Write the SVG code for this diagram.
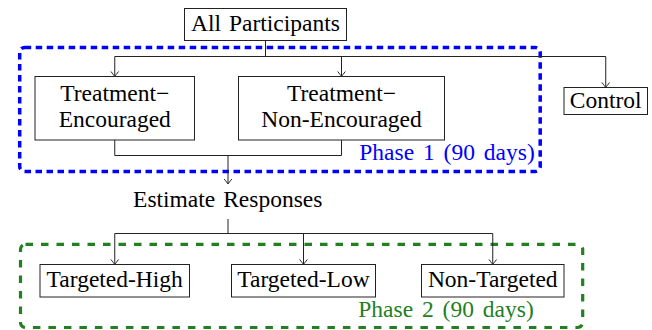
<svg xmlns="http://www.w3.org/2000/svg" width="652" height="330" viewBox="0 0 652 330">
<style>
.t{font-family:'Liberation Serif','DejaVu Serif',serif;font-size:23.5px;fill:#000;text-anchor:middle;word-spacing:2px}
.ph{word-spacing:3px}
.box{fill:#fff;stroke:#222;stroke-width:1}
.ln{fill:none;stroke:#222;stroke-width:1}
.ar{fill:none;stroke:#222;stroke-width:1;marker-end:url(#arr)}
</style>
<defs>
<marker id="arr" markerUnits="userSpaceOnUse" viewBox="-6 -5 7 10" markerWidth="7" markerHeight="10" refX="0" refY="0" orient="auto">
<path d="M-5,-3.8 C-2.5,-1.8 -0.8,-0.6 0,0 C-0.8,0.6 -2.5,1.8 -5,3.8" fill="none" stroke="#222" stroke-width="1"/>
</marker>
</defs>
<g id="phase1">
<rect x="19.7" y="47.5" width="520.5" height="124" rx="5" fill="none" stroke="#0000ff" stroke-width="3.5" stroke-dasharray="6.5 4.5"/>
<text class="t ph" x="447" y="159.5" style="fill:#0000ff">Phase 1 (90 days)</text>
</g>
<g id="phase2">
<rect x="20.5" y="244.3" width="562.2" height="83.2" rx="5" fill="none" stroke="#228022" stroke-width="3.2" stroke-dasharray="7.5 8"/>
<text class="t ph" x="446" y="316.7" style="fill:#228022">Phase 2 (90 days)</text>
</g>
<g id="connectors">
<path class="ln" d="M265.5,40.5 V56.5 M114.75,56.5 H605.75"/>
<path class="ar" d="M114.75,56.5 V76.5"/>
<path class="ar" d="M341.5,56.5 V76.5"/>
<path class="ar" d="M605.75,56.5 V87.5"/>
<path class="ln" d="M114.75,140 V155.5 H341.5 V140"/>
<path class="ar" d="M228,155.5 V184"/>
<path class="ln" d="M228,219 V233.5 M114.75,233.5 H492.75"/>
<path class="ar" d="M114.75,233.5 V264.5"/>
<path class="ar" d="M303.5,233.5 V264.5"/>
<path class="ar" d="M492.75,233.5 V264.5"/>
</g>
<g id="all">
<rect class="box" x="184.5" y="8.5" width="162" height="32"/>
<text class="t" x="265.5" y="30.7">All Participants</text>
</g>
<g id="te">
<rect class="box" x="35" y="76.5" width="159.5" height="63.5"/>
<text class="t" x="114.75" y="100.5">Treatment−</text>
<text class="t" x="114.75" y="127">Encouraged</text>
</g>
<g id="tne">
<rect class="box" x="238.5" y="76.5" width="206" height="63.5"/>
<text class="t" x="341.5" y="100.5">Treatment−</text>
<text class="t" x="341.5" y="127">Non-Encouraged</text>
</g>
<g id="control">
<rect class="box" x="564" y="87.5" width="83.5" height="27"/>
<text class="t" x="605.75" y="108.3">Control</text>
</g>
<g id="estimate">
<text class="t" x="227.7" y="207.3">Estimate Responses</text>
</g>
<g id="th">
<rect class="box" x="40" y="264.5" width="149.5" height="32.5"/>
<text class="t" x="114.75" y="286.7">Targeted-High</text>
</g>
<g id="tl">
<rect class="box" x="231.5" y="264.5" width="144" height="32.5"/>
<text class="t" x="303.5" y="286.7">Targeted-Low</text>
</g>
<g id="nt">
<rect class="box" x="421.5" y="264.5" width="142.5" height="32.5"/>
<text class="t" x="492.75" y="286.7">Non-Targeted</text>
</g>
</svg>
